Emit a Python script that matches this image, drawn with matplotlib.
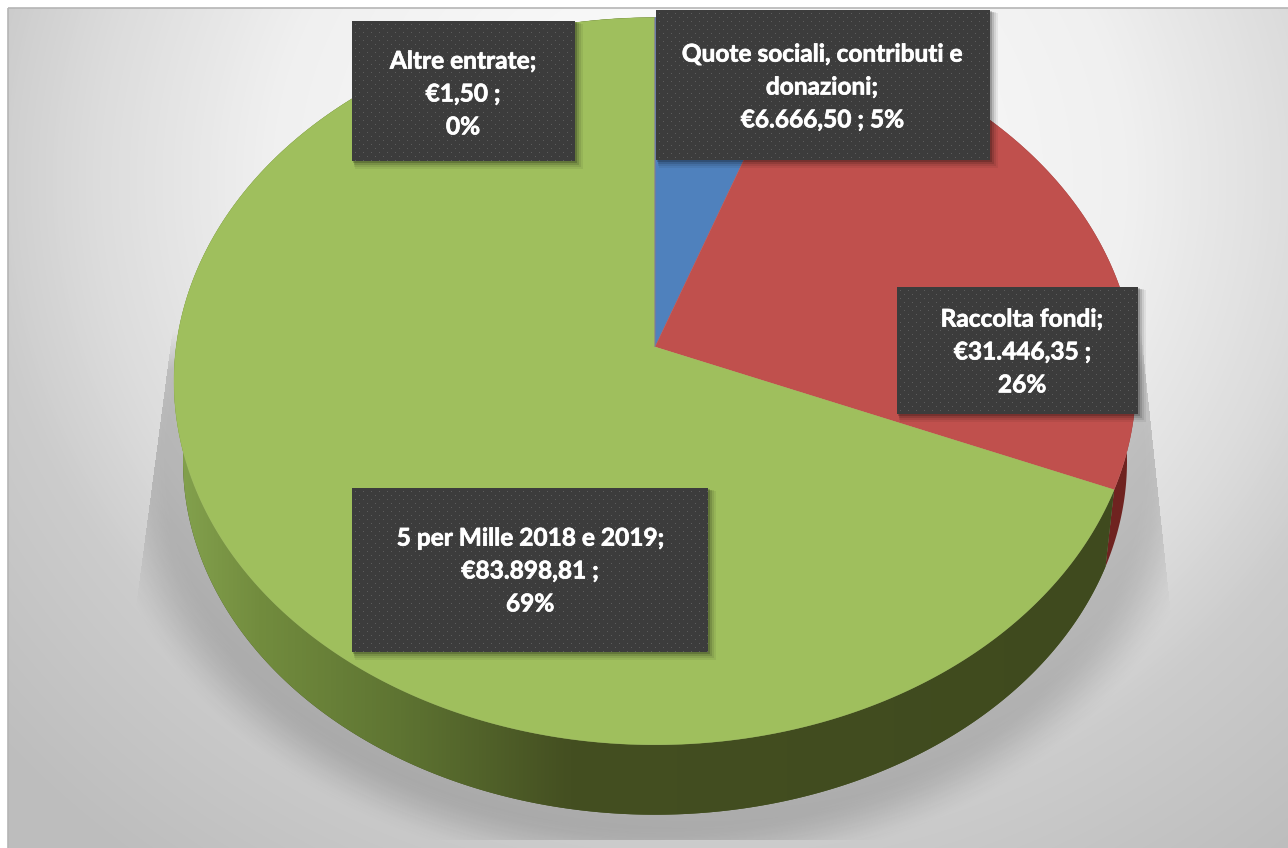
import numpy as np
import matplotlib
matplotlib.use("Agg")
import matplotlib.pyplot as plt
import matplotlib.patheffects as pe
from matplotlib.patches import Polygon, Rectangle
from matplotlib.colors import LinearSegmentedColormap

# ---- data ----
categories = ["Quote sociali, contributi e\ndonazioni;", "Raccolta fondi;", "5 per Mille 2018 e 2019;", "Altre entrate;"]
values = [6666.50, 31446.35, 83898.81, 1.50]
value_sep = ["\n{} ; {}", "\n{} ;\n{}", "\n{} ;\n{}", "\n{} ;\n{}"]
top_colors = ["#4f81bd", "#c0504d", "#9fbf5d", "#8064a2"]
side_colors = ["#2f4d71", "#6f2320", "#425020", "#4d3c61"]
boxes = [(656, 10, 990, 160), (897, 287, 1138, 414), (352, 488, 708, 652), (352, 21, 575, 161)]
text_centers = [(822, 87), (1022, 352), (530, 571), (463, 94)]

W, H = 1288, 848
plt.rcParams['font.family'] = ['Lato', 'DejaVu Sans']
fig = plt.figure(figsize=(W / 100, H / 100), dpi=100, facecolor="white")
ax = fig.add_axes([0, 0, 1, 1])
ax.axis("off")

yy, xx = np.mgrid[0:H, 0:W] + 0.5

# background
t = np.sqrt(((xx - 700) / 780) ** 2 + ((yy - 180) / 720) ** 2)
bg_cmap = LinearSegmentedColormap.from_list(
    "bg", [(0, "#ffffff"), (0.55 / 1.2, "#f0f0f0"), (0.78 / 1.2, "#dcdcdc"), (0.92 / 1.2, "#cccccc"), (1, "#bdbdbd")])
im = ax.imshow(t, cmap=bg_cmap, vmin=0, vmax=1.2, extent=(0, W, H, 0), zorder=0, aspect="auto")
im.set_clip_path(Rectangle((8, 8), W, H, transform=ax.transData))
ax.add_patch(Rectangle((8, 8), W, H + 20, fc="none", ec="#b5b5b5", lw=1.2, zorder=1, clip_on=True))

# pie geometry
CX, K = 655, 0.094
TOP = dict(rx=481, ry=362, cy=381)
LOW = dict(rx=472, ry=352, cy=461)

def rim(theta, rx, ry, cy):
    X, Y = np.sin(theta), np.cos(theta)
    s = np.sqrt(1 - K ** 2)
    d = 1 + K * Y
    return np.column_stack([CX + rx * s * X / d, cy - K * ry - ry * s * Y / d])

def apex(rx, ry, cy):
    return np.array([CX, cy - K * ry])

# shadow behind pie
rho = np.sqrt(((xx - CX) / 560) ** 2 + ((yy - 461) / 420) ** 2)
a = np.clip((1.0 - rho) / 0.13, 0, 1)
a = a * a * (3 - 2 * a)
xl = 170 - (yy - 350) * 30 / 227
xr = 1143 + (yy - 350) * 24 / 227
a = a * (xx > xl) * (xx < xr) * (yy < 840) * np.clip((yy - 330) / 40, 0, 1)
rgba = np.zeros((H, W, 4))
rgba[..., 3] = a * 0.17
ax.imshow(rgba, extent=(0, W, H, 0), zorder=2, aspect="auto")

# slices
fractions = np.array(values) / np.sum(values)
edges = np.concatenate([[0], np.cumsum(fractions)]) * 2 * np.pi
side_cmap = LinearSegmentedColormap.from_list(
    "side", [(0, "#84a24e"), (0.09, "#728c3e"), (0.24, "#5e7432"), (0.42, "#444f21"), (1, "#3f4a1e")])
grad = np.linspace(0, 1, 512).reshape(1, -1)

for i, c in enumerate(top_colors):
    th = np.linspace(edges[i], edges[i + 1], 400)
    poly = np.vstack([rim(th, **TOP), rim(th[::-1], **LOW)])
    ax.add_patch(Polygon(poly, closed=True, fc=side_colors[i], ec="none", zorder=3))
    if i == 2:
        g = ax.imshow(grad, cmap=side_cmap, extent=(174, 1114, H, 0), zorder=3.1, aspect="auto")
        g.set_clip_path(Polygon(poly, closed=True, transform=ax.transData))

for i, c in enumerate(top_colors):
    th = np.linspace(edges[i], edges[i + 1], 400)
    poly = np.vstack([apex(**TOP), rim(th, **TOP)])
    ax.add_patch(Polygon(poly, closed=True, fc=c, ec=c, lw=0.3, zorder=4))

# label boxes
def fmt(v):
    s = f"{v:,.2f}".replace(",", "#").replace(".", ",").replace("#", ".")
    return "€" + s

cm = LinearSegmentedColormap.from_list("box", ["#3c3c3c", "#5c5c5c"])
for i, (x0, y0, x1, y1) in enumerate(boxes):
    for off, al in [(8, 0.06), (6, 0.08), (4, 0.12), (2, 0.18)]:
        ax.add_patch(Rectangle((x0 + off * .4, y0 + off * .4), x1 - x0 + off * .6, y1 - y0 + off * .6,
                               fc="black", alpha=al, ec="none", zorder=5))
    w, h = x1 - x0, y1 - y0
    py, px = np.mgrid[0:h, 0:w]
    arr = np.zeros((h, w))
    arr[(px % 8 == 3) & (py % 8 == 3)] = 1
    arr[(px % 8 == 7) & (py % 8 == 7)] = 1
    ax.imshow(arr, cmap=cm, extent=(x0, x1, y1, y0), zorder=6, aspect="auto", interpolation="nearest")
    pct = f"{round(fractions[i] * 100):d}%"
    txt = categories[i] + value_sep[i].format(fmt(values[i]), pct)
    tx, ty = text_centers[i]
    ax.text(tx, ty, txt, color="white", fontweight="bold", fontsize=17.6, ha="center", va="center",
            linespacing=1.52, zorder=7,
            path_effects=[pe.withStroke(linewidth=0.5, foreground="white")])

ax.set_xlim(0, W)
ax.set_ylim(H, 0)
fig.savefig("out.png", dpi=100, facecolor="white")
